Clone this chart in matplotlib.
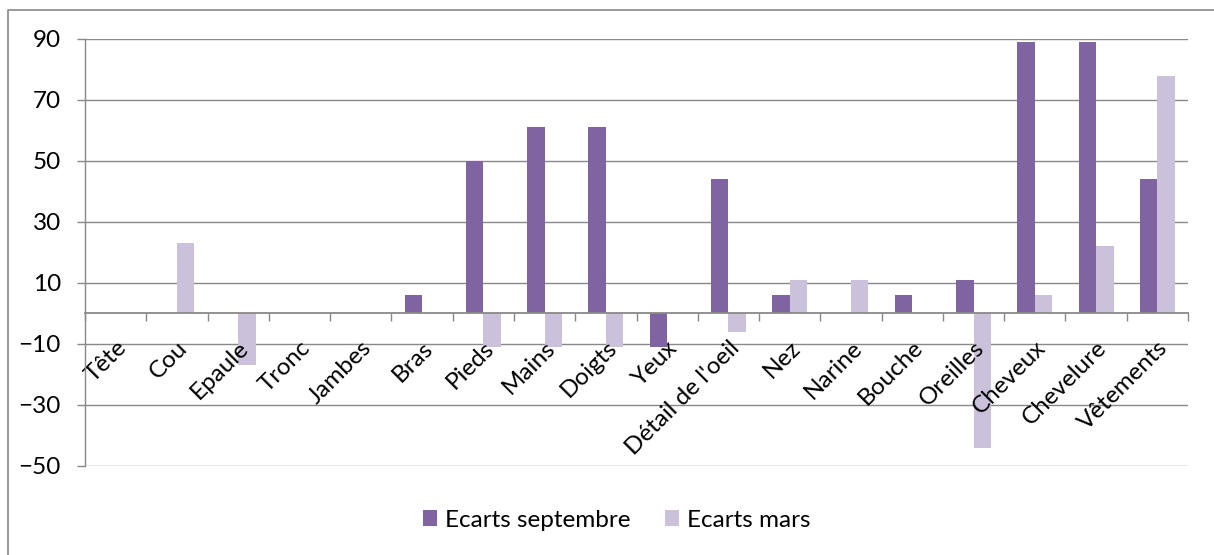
import matplotlib.pyplot as plt
import numpy as np
from matplotlib.lines import Line2D

categories = ["Tête", "Cou", "Epaule", "Tronc", "Jambes", "Bras", "Pieds", "Mains",
              "Doigts", "Yeux", "Détail de l'oeil", "Nez", "Narine", "Bouche",
              "Oreilles", "Cheveux", "Chevelure", "Vêtements"]
ecarts_septembre = [0, 0, 0, 0, 0, 6, 50, 61, 61, -11, 44, 6, 0, 6, 11, 89, 89, 44]
ecarts_mars = [0, 23, -17, 0, 0, 0, -11, -11, -11, 0, -6, 11, 11, 0, -44, 6, 22, 78]
y_ticks = [-50, -30, -10, 10, 30, 50, 70, 90]

plt.rcParams['font.family'] = ['Lato', 'DejaVu Sans']
grey = '#898989'
fs = 17.5

fig = plt.figure(figsize=(12.14, 5.55), dpi=100)
ax = fig.add_axes([0.0700, 0.1604, 0.9086, 0.7694])

# cadre (seulement gauche et haut visibles dans l'image)
fig.lines.append(Line2D([8 / 1214, 8 / 1214, 1.0], [0.0, 1 - 10 / 555, 1 - 10 / 555],
                        transform=fig.transFigure, color=grey, linewidth=1.2))

x = np.arange(len(categories))
w = 0.2857
for yv in y_ticks:
    ax.axhline(yv, color=grey, linewidth=1.0, zorder=0)
ax.bar(x - w / 2, ecarts_septembre, w, color='#8064A2', label='Ecarts septembre', zorder=1)
ax.bar(x + w / 2, ecarts_mars, w, color='#CCC1DA', label='Ecarts mars', zorder=1)

ax.set_xlim(-0.5, len(categories) - 0.5)
ax.set_ylim(-50, 90)
ax.set_yticks(y_ticks)
ax.tick_params(axis='y', length=5.8, width=1.0, color=grey, pad=11.5, labelsize=fs)

for s in ['top', 'right']:
    ax.spines[s].set_visible(False)
ax.spines['left'].set_color(grey)
ax.spines['bottom'].set_color(grey)
ax.spines['left'].set_linewidth(1.0)
ax.spines['bottom'].set_linewidth(1.3)
ax.spines['bottom'].set_position(('data', 0))

ax.set_xticks(x)
ax.set_xticklabels(categories, rotation=45, ha='right', rotation_mode='anchor', fontsize=fs)
ax.tick_params(axis='x', which='major', length=0, pad=17)
ax.set_xticks(np.arange(len(categories) + 1) - 0.5, minor=True)
ax.tick_params(axis='x', which='minor', length=6, width=1.0, color=grey, direction='out')

fig.legend(*ax.get_legend_handles_labels(), loc='center', bbox_to_anchor=(0.508, 0.063),
           ncol=2, frameon=False, fontsize=fs, handlelength=0.58, handleheight=0.58,
           handletextpad=0.33, columnspacing=1.4)

fig.savefig('out.png', dpi=100)
